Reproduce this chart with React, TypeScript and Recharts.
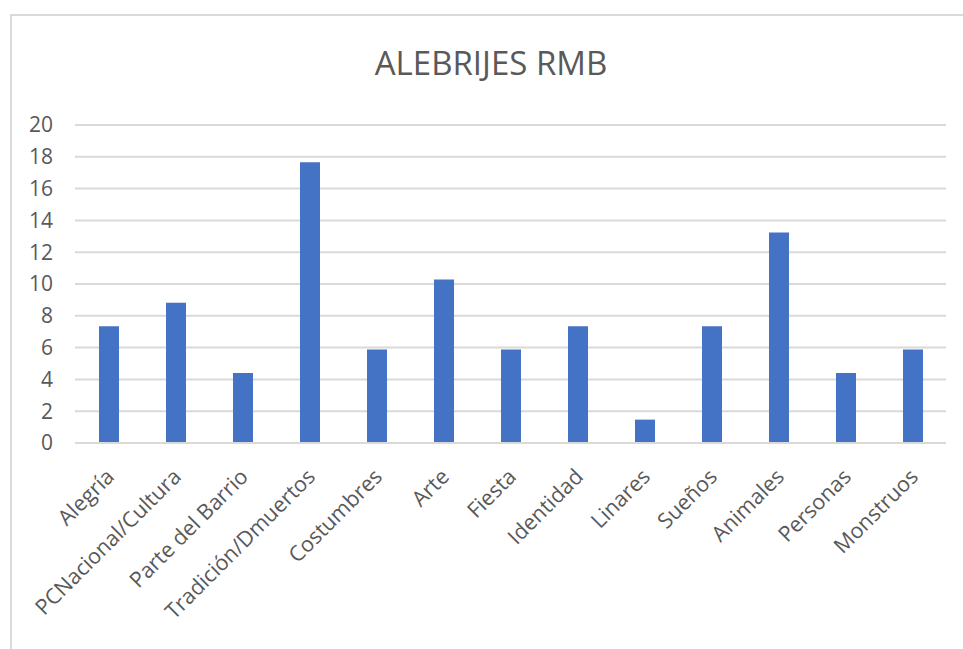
import React from 'react';
import { BarChart, Bar, XAxis, YAxis, CartesianGrid } from 'recharts';

const categories = [
  'Alegría', 'PCNacional/Cultura', 'Parte del Barrio', 'Tradición/Dmuertos', 'Costumbres',
  'Arte', 'Fiesta', 'Identidad', 'Linares', 'Sueños', 'Animales', 'Personas', 'Monstruos',
];
const values = [7.35, 8.82, 4.41, 17.65, 5.88, 10.29, 5.88, 7.35, 1.47, 7.35, 13.24, 4.41, 5.88];
const yTicks = [0, 2, 4, 6, 8, 10, 12, 14, 16, 18, 20];

const data = categories.map((name, i) => ({ name, value: values[i] }));

const FONT = '"Open Sans", sans-serif';
const TEXT = '#595959';

const AngledTick = (props: any) => {
  const { x, y, payload } = props;
  const tx = x + 7;
  const ty = y + 27;
  return (
    <text
      x={tx}
      y={ty}
      transform={`rotate(-45, ${tx}, ${ty})`}
      textAnchor="end"
      fontFamily={FONT}
      fontSize={21.5}
      fill={TEXT}
    >
      {payload.value}
    </text>
  );
};

export default function App() {
  return (
    <div style={{ position: 'absolute', left: 0, top: 0, width: 963, height: 649, background: '#fff' }}>
      <div
        style={{
          position: 'absolute', left: 10, top: 14, width: 970, height: 660,
          border: '2px solid #d9d9d9', boxSizing: 'border-box',
        }}
      />
      <div
        style={{
          position: 'absolute', left: 0, top: 40, width: 982, textAlign: 'center',
          fontFamily: FONT, fontSize: 33, color: TEXT,
        }}
      >
        ALEBRIJES RMB
      </div>
      <div style={{ position: 'absolute', left: 0, top: 0 }}>
        <BarChart
          width={963}
          height={649}
          data={data}
          margin={{ top: 125, right: 17, bottom: 0, left: 0 }}
        >
          <CartesianGrid vertical={false} stroke="#d9d9d9" strokeWidth={2} />
          <YAxis
            width={75}
            domain={[0, 20]}
            ticks={yTicks}
            interval={0}
            axisLine={false}
            tickLine={false}
            tickMargin={16}
            tick={{ fontFamily: FONT, fontSize: 21, fill: TEXT }}
          />
          <XAxis
            dataKey="name"
            height={206}
            interval={0}
            axisLine={{ stroke: '#d9d9d9', strokeWidth: 2 }}
            tickLine={false}
            tick={<AngledTick />}
          />
          <Bar dataKey="value" fill="#4472C4" barSize={20} isAnimationActive={false} />
        </BarChart>
      </div>
    </div>
  );
}
